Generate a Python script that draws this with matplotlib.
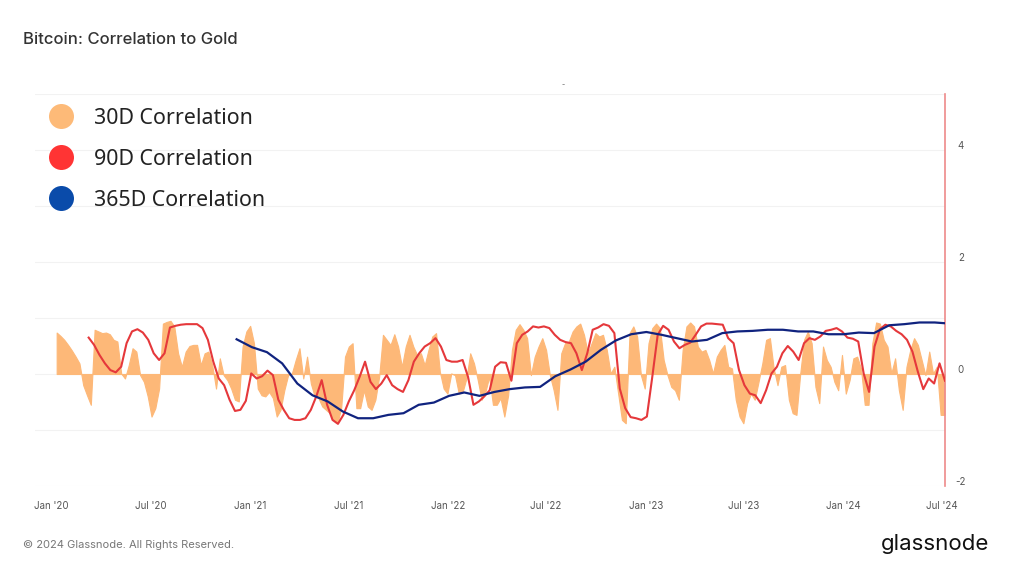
"""Bitcoin correlation to gold, 30D / 90D / 365D."""

import numpy as np
import pandas as pd
import matplotlib
matplotlib.use('Agg')
import matplotlib.pyplot as plt
from matplotlib.lines import Line2D

plt.rcParams['font.family'] = ['Inter', 'DejaVu Sans']

# weekly
corr_30d = [
    .74, .68, .61, .52, .42, .31, .19, -.20, -.38, -.55, .79, .76, .73, .74, .71, .61,
    .58, .01, -.08, .16, .46, .40, -.02, -.14, -.40, -.76, -.61, -.26, .90, .93, .95, .85,
    .37, .13, .40, .50, .52, .52, .16, .37, .40, .16, -.26, .28, -.02, -.11, -.26, -.46,
    -.49, .49, .76, .86, .55, -.26, -.38, -.40, -.32, -.43, -.76, -.64, -.29, -.02, .01, .25,
    .46, -.08, .31, -.17, -.40, -.43, -.58, -.64, -.70, -.82, -.88, -.60, .31, .49, .55,
    -.61, -.61, -.29, -.58, -.64, -.46, -.05, .70, .61, .52, .71, .49, .13, .49, .70, .49,
    .34, .37, .16, .43, .67, .73, .04, -.26, -.35, .01, -.02, -.35, -.32, -.08, .37, .19,
    -.11, -.46, -.32, -.05, -.55, -.55, -.43, -.76, -.38, .43, .79, .89, .79, .64, -.02, .31,
    .49, .64, .43, -.02, -.29, -.64, .37, .55, .58, .76, .85, .90, .70, .37, .55, .73,
    .67, .70, .43, .01, .13, -.35, -.82, -.88, .73, .85, .67, -.02, -.26, .55, .82,
    .90, .82, .25, -.02, -.23, -.29, -.46, .43, .85, .92, .85, .49, .40, .43, .25, .01,
    .31, .43, .52, .13, .10, -.46, -.76, -.88, -.52, -.35, -.46, -.14, .19, .61, .64, .10,
    -.20, .13, .16, -.46, -.70, -.73, .01, .61, .76, .55, -.23, -.52, .49, .25, .13, -.14,
    -.29, .34, -.35, -.11, .28, .31, .10, -.55, -.55, .55, .92, .90, .61, .49, .01, .28,
    -.29, -.64, .13, .43, .64, .52, .25, -.02, .40, .01, .13, -.73, -.73,
]

# every 10 days
corr_90d = [
    .65, .52, .34, .19, .07, .03, .13, .55, .76, .80, .74, .61, .37, .25, .37, .83,
    .86, .88, .89, .89, .89, .82, .61, .22, -.08, -.20, -.46, -.66, -.64, -.48, .01, -.08,
    -.04, .06, -.02, -.46, -.64, -.79, -.82, -.82, -.79, -.64, -.40, -.11, -.55, -.82, -.89, -.73,
    -.49, -.29,
    -.05, .22, -.14, -.27, -.17, -.02, -.20, -.27, -.32, -.11, .22, .37, .49, .55, .64, .49,
    .25, .22, .22, .25, -.05, -.55, -.49, -.40, -.29, .13, .21, .20, -.12, .55, .70, .76,
    .85, .83, .85, .82, .70, .61, .57, .55, .37, .07, .37, .79, .83, .89, .86, .73,
    -.26, -.61, -.77, -.79, -.82, -.76, -.05, .70,
    .86, .79, .58, .46, .52, .56, .70, .85, .90, .90, .89, .88, .64, .55, .07,
    -.20, -.35, -.38, -.52, -.29, .01, .13, .37, .50, .40, .25, .55, .64, .61, .67, .77,
    .79, .82, .76, .65, .63, .58, .01, -.32, .49, .80, .88, .85, .77, .71, .61, .40,
    .04, -.27, -.08, -.17, .19, -.12,
]

# every 28 days
corr_365d = [
    .62, .48, .39, .19, -.17, -.38, -.49, -.67, -.79, -.79, -.73, -.70, -.55, -.51, -.39, -.33,
    -.39, -.32, -.27, -.24, -.23, -.04, .08, .22, .43, .60, .71, .75, .70, .64, .58, .61,
    .73, .76, .77, .79, .79, .76, .76, .71, .71, .74, .73, .87, .89, .92, .92, .90,
]

dates_30d = pd.date_range('2020-01-10', periods=len(corr_30d), freq='7D')
dates_90d = pd.date_range('2020-03-09', periods=len(corr_90d), freq='10D')
dates_365d = pd.date_range('2020-12-07', periods=len(corr_365d), freq='28D')

tick_dates = pd.date_range('2020-01-01', '2024-07-01', freq='6MS')
tick_labels = [d.strftime("%b '%y") for d in tick_dates]

legend_names = ['30D Correlation', '90D Correlation', '365D Correlation']
legend_colors = ['#FDBA78', '#FF3434', '#0A4BAA']
legend_y = [116, 157, 198]

W, H = 1012, 572
fig = plt.figure(figsize=(W / 100, H / 100), dpi=100)
ax = fig.add_axes([35 / W, 1 - 486 / H, 910.5 / W, 392 / H])

ax.fill_between(dates_30d, corr_30d, 0, facecolor='#FDB878', edgecolor='#FDB878', linewidth=0.8,
                interpolate=True, zorder=2)
ax.plot(dates_90d, corr_90d, color='#E5383B', lw=1.5, zorder=3)
ax.plot(dates_365d, corr_365d, color='#10237F', lw=1.6, zorder=4)

ax.set_xlim(pd.Timestamp('2019-12-01'), pd.Timestamp('2024-07-07'))
ax.set_ylim(-2, 5)
ax.set_yticks(np.arange(-2, 6))
ax.grid(axis='y', color='#f2f2f2', lw=0.8, zorder=0)
ax.set_axisbelow(True)
for s in ['top', 'left', 'bottom']:
    ax.spines[s].set_visible(False)
ax.spines['right'].set_color('#EE8A8A')
ax.spines['right'].set_linewidth(1.2)
ax.tick_params(axis='both', length=0, labelleft=False, labelright=False)

ax.set_xticks(tick_dates)
ax.set_xticklabels(tick_labels, fontsize=7, color='#555555')
ax.tick_params(axis='x', pad=11)

for v in [-2, 0, 2, 4]:
    ax.annotate(str(v), xy=(1, v), xycoords=ax.get_yaxis_transform(), xytext=(15.5, -1),
                textcoords='offset pixels', fontsize=7, color='#555555', ha='center', va='bottom')

fig.text(23 / W, 1 - 40 / H, 'Bitcoin: Correlation to Gold', fontsize=12, color='#333333',
         va='center', fontweight='medium')
fig.text(563.5 / W, 1 - 85 / H, '-', fontsize=5, color='#555555', ha='center', va='center')

for name, col, y in zip(legend_names, legend_colors, legend_y):
    fig.add_artist(Line2D([61 / W], [1 - y / H], marker='o', ms=18, color=col, mew=0,
                          transform=fig.transFigure))
    fig.text(94 / W, 1 - (y + 2.5) / H, name, fontsize=15.4, color='#222222', va='center',
             family=['Noto Sans', 'DejaVu Sans'], zorder=6)

fig.text(23 / W, 1 - 545 / H, '© 2024 Glassnode. All Rights Reserved.', fontsize=8,
         color='#777777', va='center')
fig.text(989 / W, 1 - 544 / H, 'glassnode', fontsize=16, color='#111111', ha='right', va='center')

fig.savefig('out.png', dpi=100)
